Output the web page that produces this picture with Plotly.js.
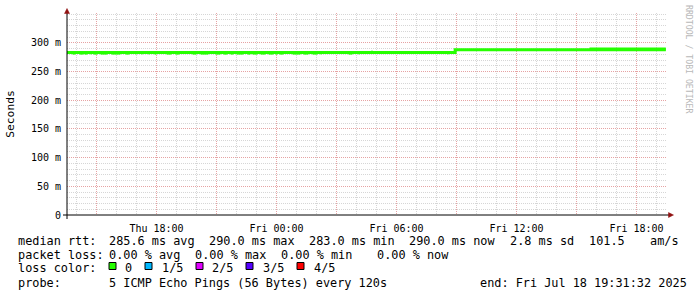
<!DOCTYPE html>
<html><head><meta charset="utf-8">
<script src="https://cdn.plot.ly/plotly-3.0.1.min.js"></script>
<style>html,body{margin:0;padding:0;background:#fff;}#chart{width:697px;height:297px;}</style>
</head><body><div id="chart"></div>
<script>
// ---------- data ----------
const startTime = '2025-07-17 13:31:32';
const endTime = '2025-07-18 19:31:32';

const medianTimes = ['2025-07-17 13:31:32', '2025-07-18 08:56:00', '2025-07-18 19:28:00'];
const medianValues = [283, 288, 288];

const jitterTimes = ['2025-07-18 15:39:00', '2025-07-18 19:28:00'];
const jitterValues = [289.3, 289.3];

const bumpTimes = ['2025-07-18 04:45:00', '2025-07-18 04:48:00'];
const bumpValues = [284.8, 284.8];

const dipStart = ['2025-07-17 13:48','2025-07-17 14:09','2025-07-17 14:24','2025-07-17 14:42','2025-07-17 14:51',
  '2025-07-17 15:12','2025-07-17 15:45','2025-07-17 16:27','2025-07-17 16:57','2025-07-17 17:15',
  '2025-07-17 17:36','2025-07-17 17:54','2025-07-17 18:30','2025-07-17 18:57','2025-07-17 19:48',
  '2025-07-17 20:12','2025-07-17 20:57','2025-07-17 21:21','2025-07-17 21:42','2025-07-17 22:00',
  '2025-07-17 22:33','2025-07-17 22:48','2025-07-17 23:12','2025-07-17 23:36','2025-07-17 23:57',
  '2025-07-18 00:09','2025-07-18 00:48','2025-07-18 01:21','2025-07-18 01:48','2025-07-18 02:12',
  '2025-07-18 03:36','2025-07-18 04:06','2025-07-18 08:33'];
const dipEnd = ['2025-07-17 13:57','2025-07-17 14:21','2025-07-17 14:33','2025-07-17 14:45','2025-07-17 15:03',
  '2025-07-17 15:33','2025-07-17 16:12','2025-07-17 16:39','2025-07-17 17:00','2025-07-17 17:18',
  '2025-07-17 17:39','2025-07-17 18:00','2025-07-17 18:45','2025-07-17 19:09','2025-07-17 20:00',
  '2025-07-17 20:36','2025-07-17 21:12','2025-07-17 21:33','2025-07-17 21:51','2025-07-17 22:21',
  '2025-07-17 22:42','2025-07-17 23:03','2025-07-17 23:27','2025-07-17 23:51','2025-07-18 00:03',
  '2025-07-18 00:21','2025-07-18 01:12','2025-07-18 01:36','2025-07-18 02:03','2025-07-18 02:15',
  '2025-07-18 03:48','2025-07-18 04:09','2025-07-18 08:36'];
const dipValues = [281.3,281.3,281.3,281.3,281.3,281.3,281.3,281.3,281.3,281.3,281.3,281.3,281.3,281.3,281.3,
  281.3,281.3,281.3,281.3,281.3,281.3,281.3,281.3,281.3,281.3,281.3,281.3,281.3,281.3,281.3,281.3,281.3,281.3];

const xTickVals = ['2025-07-17 15:00','2025-07-17 18:00','2025-07-17 21:00','2025-07-18 00:00','2025-07-18 03:00',
  '2025-07-18 06:00','2025-07-18 09:00','2025-07-18 12:00','2025-07-18 15:00','2025-07-18 18:00'];
const xTickText = ['','Thu 18:00','','Fri 00:00','','Fri 06:00','','Fri 12:00','','Fri 18:00'];
const yTickVals = [0, 50, 100, 150, 200, 250, 300];
const yTickText = ['0', '50 m', '100 m', '150 m', '200 m', '250 m', '300 m'];

const rttLabel = 'median rtt:';
const rttStats = ['285.6 ms avg', '290.0 ms max', '283.0 ms min', '290.0 ms now', '2.8 ms sd', '101.5', 'am/s'];
const lossLabel = 'packet loss:';
const lossStats = ['0.00 % avg', '0.00 % max', '0.00 % min', '0.00 % now'];
const colorLabel = 'loss color:';
const lossLabels = ['0', '1/5', '2/5', '3/5', '4/5'];
const lossColors = ['#26ff00', '#00b8ff', '#e000ff', '#5500ff', '#ff0000'];
const probeLabel = 'probe:';
const probeText = '5 ICMP Echo Pings (56 Bytes) every 120s';
const endText = 'end: Fri Jul 18 19:31:32 2025';
const watermark = 'RRDTOOL / TOBI OETIKER';

// ---------- layout helpers ----------
const W = 697, H = 297, ML = 67, MR = 30, MT = 13, MB = 82;
const PW = W - ML - MR, PH = H - MT - MB;
const px = v => (v - ML) / PW;
const py = v => (H - MB - v) / PH;
const nb = s => s.replace(/ /g, '\u00a0');
const MONO = 'DejaVu Sans Mono, monospace';

const dipX = [], dipY = [];
for (let i = 0; i < dipStart.length; i++) {
  dipX.push(dipStart[i], dipEnd[i], null);
  dipY.push(dipValues[i], dipValues[i], null);
}

const green = lossColors[0];
const traces = [
  {x: medianTimes, y: medianValues, type: 'scatter', mode: 'lines', line: {color: green, width: 3, shape: 'hv'}, hoverinfo: 'skip'},
  {x: jitterTimes, y: jitterValues, type: 'scatter', mode: 'lines', line: {color: green, width: 3, shape: 'hv'}, hoverinfo: 'skip'},
  {x: bumpTimes, y: bumpValues, type: 'scatter', mode: 'lines', line: {color: green, width: 2}, hoverinfo: 'skip'},
  {x: dipX, y: dipY, type: 'scatter', mode: 'lines', connectgaps: false, line: {color: green, width: 2}, hoverinfo: 'skip'}
];

const annotations = [];
function txt(s, x, y, size, opts) {
  annotations.push(Object.assign({text: nb(s), xref: 'paper', yref: 'paper', x: px(x), y: py(y),
    xanchor: 'left', yanchor: 'middle', showarrow: false, font: {family: MONO, size: size || 11.85, color: '#000'}}, opts || {}));
}
const row = [241.5, 255, 268.3, 282.5];
txt(rttLabel, 16, row[0]);
const rttX = [107, 207.3, 307.3, 406.7, 508.3, 586.7, 648];
rttStats.forEach((s, i) => txt(s, rttX[i], row[0]));
txt(lossLabel, 16, row[1]);
const lossX = [107, 193.3, 279.3, 375];
lossStats.forEach((s, i) => txt(s, lossX[i], row[1]));
txt(colorLabel, 16, row[2]);
const boxX = [109, 145, 196, 246, 297];
const labX = [123, 160, 210, 261, 311.7];
lossLabels.forEach((s, i) => txt(s, labX[i], row[2]));
txt(probeLabel, 16, row[3]);
txt(probeText, 107, row[3]);
txt(endText, 478, row[3]);
annotations.push({text: watermark, xref: 'paper', yref: 'paper', x: px(689), y: py(59), textangle: 90,
  xanchor: 'center', yanchor: 'middle', showarrow: false, font: {family: MONO, size: 8.2, color: '#b8b8b8'}});

const shapes = [];
lossColors.forEach((c, i) => {
  shapes.push({type: 'rect', xref: 'paper', yref: 'paper', x0: px(boxX[i]), x1: px(boxX[i] + 7), y0: py(262.5), y1: py(269.5),
    fillcolor: c, line: {color: '#000', width: 1}});
});
// axis extensions and arrows
shapes.push({type: 'line', xref: 'paper', yref: 'paper', x0: px(67), x1: px(67), y0: py(219), y1: py(12), line: {color: '#000', width: 1}});
shapes.push({type: 'line', xref: 'paper', yref: 'paper', x0: px(63), x1: px(669), y0: py(215), y1: py(215), line: {color: '#000', width: 1}});
shapes.push({type: 'path', xref: 'paper', yref: 'paper',
  path: `M ${px(64.5)} ${py(13.5)} L ${px(69.5)} ${py(13.5)} L ${px(67)} ${py(8.5)} Z`, fillcolor: '#901010', line: {color: '#901010', width: 0.5}});
shapes.push({type: 'path', xref: 'paper', yref: 'paper',
  path: `M ${px(668.5)} ${py(212.5)} L ${px(668.5)} ${py(217.5)} L ${px(673.5)} ${py(215)} Z`, fillcolor: '#901010', line: {color: '#901010', width: 0.5}});

const layout = {
  width: W, height: H,
  margin: {l: ML, r: MR, t: MT, b: MB, pad: 0},
  paper_bgcolor: '#ffffff', plot_bgcolor: '#ffffff',
  showlegend: false,
  font: {family: MONO, color: '#000'},
  xaxis: {
    type: 'date', range: [startTime, endTime], fixedrange: true,
    tickmode: 'array', tickvals: xTickVals, ticktext: xTickText,
    ticks: 'outside', ticklen: 4, tickcolor: 'rgba(0,0,0,0)', showline: false, zeroline: false,
    showgrid: true, gridcolor: '#e6a3a3', griddash: '1px,1px', gridwidth: 1,
    minor: {dtick: 3600000, tick0: '2025-07-17 14:00', showgrid: true, gridcolor: '#d6d6d6', griddash: '1px,1px', gridwidth: 1, ticks: ''},
    tickfont: {family: MONO, size: 10, color: '#000'}
  },
  yaxis: {
    range: [0, 352], fixedrange: true,
    tickmode: 'array', tickvals: yTickVals, ticktext: yTickText,
    ticks: 'outside', ticklen: 3, tickcolor: 'rgba(0,0,0,0)', showline: false, zeroline: false,
    showgrid: true, gridcolor: '#e6a3a3', griddash: '1px,1px', gridwidth: 1,
    minor: {dtick: 10, showgrid: true, gridcolor: '#d6d6d6', griddash: '1px,1px', gridwidth: 1, ticks: ''},
    tickfont: {family: MONO, size: 10, color: '#000'},
    title: {text: 'Seconds', font: {family: MONO, size: 11.3, color: '#000'}, standoff: 13}
  },
  annotations: annotations,
  shapes: shapes
};

Plotly.newPlot('chart', traces, layout, {displayModeBar: false, staticPlot: true});
</script>
</body></html>
